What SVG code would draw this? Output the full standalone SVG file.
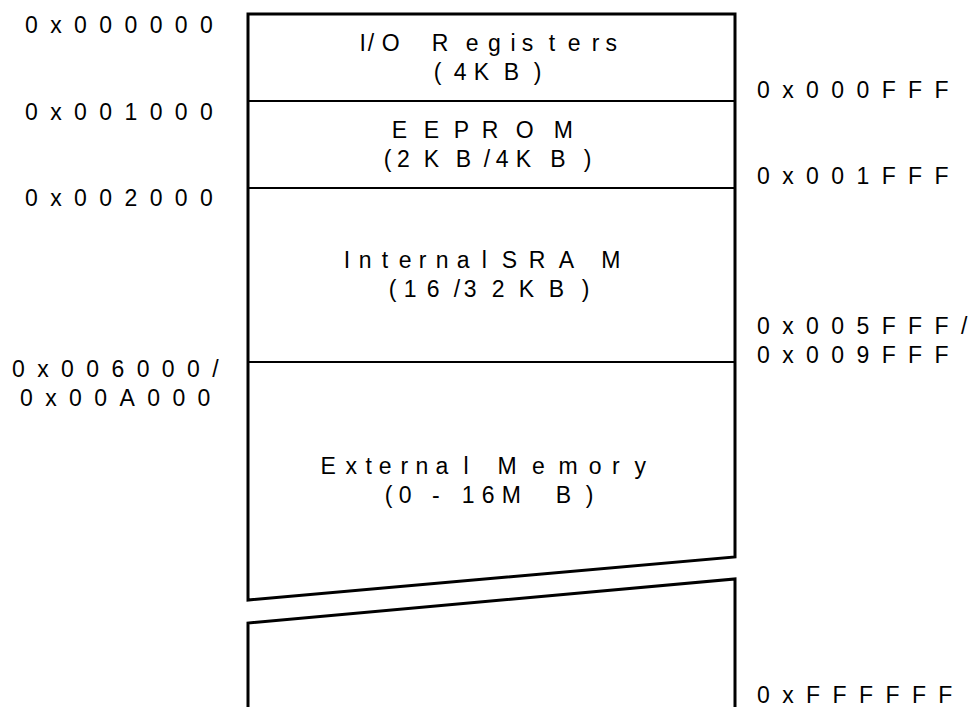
<svg xmlns="http://www.w3.org/2000/svg" width="978" height="707" viewBox="0 0 978 707">
<style>
text{font-family:"Liberation Sans",Arial,sans-serif;font-size:23px;fill:#000}
.addr{letter-spacing:12.4px}
.outline{fill:none;stroke:#000;stroke-width:3;stroke-linejoin:miter}
.div{fill:none;stroke:#000;stroke-width:2}
</style>
<rect width="978" height="707" fill="#fff"/>
<g id="memory-map">
<path class="outline" d="M248,600 V14 H735 V557 Z"/>
<path class="outline" d="M248,710 V623 L735,579 V710"/>
</g>
<g id="connectors">
<line class="div" x1="248" y1="101" x2="735" y2="101"/>
<line class="div" x1="248" y1="188" x2="735" y2="188"/>
<line class="div" x1="248" y1="362" x2="735" y2="362"/>
</g>
<g id="io-registers">
<text x="359.4 367.7 381.7 405 431.7 465.7 488 510.4 521.7 548.7 567.7 591.7 605.4" y="51">I/O Registers</text>
<text x="433.7 453.7 473.7 503.7 533.7" y="80">(4KB)</text>
</g>
<g id="eeprom">
<text x="391.7 423.7 453.7 481.7 515.7 553.7" y="138">EEPROM</text>
<text x="383.7 397 423.7 455.7 483.7 495.7 515.7 550.3 583.7" y="167">(2KB/4KB)</text>
</g>
<g id="internal-sram">
<text x="343.7 358.7 381.7 398.7 418.7 435.7 456.7 481.7 492 501.7 528.7 558.7 601.3" y="268">Internal SRAM</text>
<text x="388.7 403.7 426.7 453.7 463.7 491.7 518.7 548.7 581.7" y="297">(16/32KB)</text>
</g>
<g id="external-memory">
<text x="320.4 345.4 365.4 378.7 400.4 415.4 435.4 463.5 480 497.6 532 558.5 588.7 612 634.4" y="474">External Memory</text>
<text x="384.7 398.7 415 432 447 461.7 481.7 501.7 555.7 585.7" y="503">(0 - 16MB)</text>
</g>
<g id="addresses-start">
<text class="addr" x="25" y="33">0x000000</text>
<text class="addr" x="25" y="120">0x001000</text>
<text class="addr" x="25" y="206">0x002000</text>
<text class="addr" x="12" y="377">0x006000/</text>
<text class="addr" x="20" y="406">0x00A000</text>
</g>
<g id="addresses-end">
<text class="addr" x="757" y="98">0x000FFF</text>
<text class="addr" x="757" y="184">0x001FFF</text>
<text class="addr" x="757" y="334">0x005FFF/</text>
<text class="addr" x="757" y="363">0x009FFF</text>
<text class="addr" x="757" y="703">0xFFFFFF</text>
</g>
</svg>
